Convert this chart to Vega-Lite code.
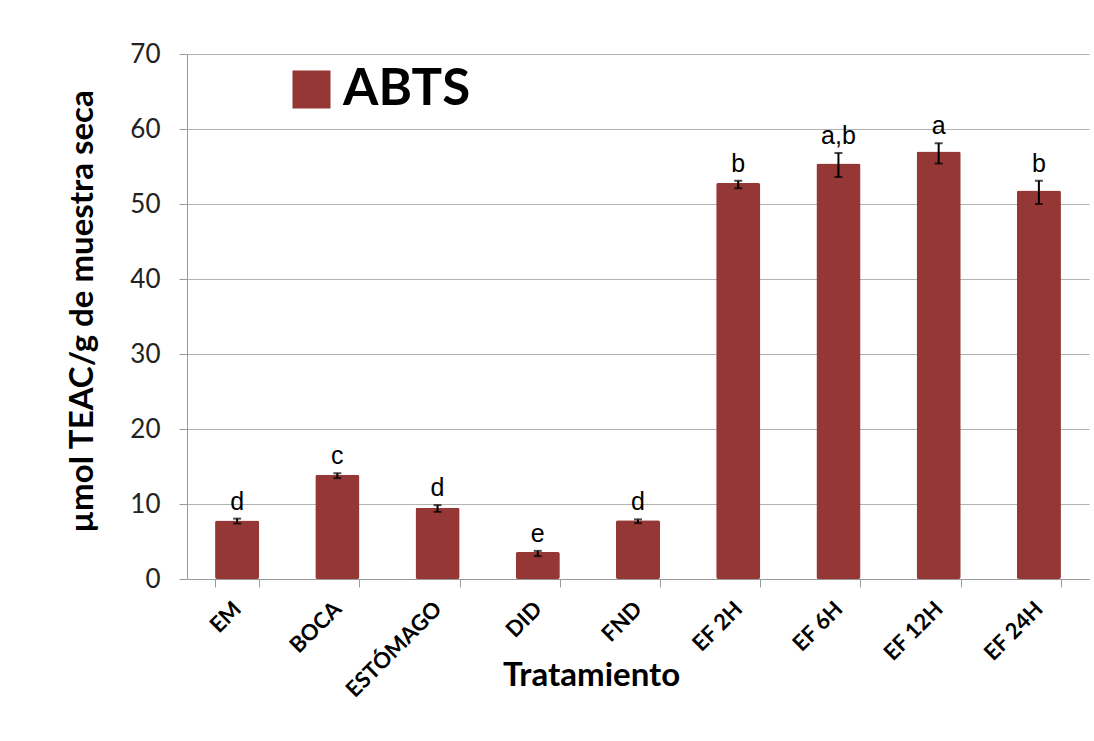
{
  "$schema": "https://vega.github.io/schema/vega-lite/v6.json",
  "width": 902,
  "height": 525,
  "autosize": {"type": "none"},
  "padding": {"left": 187, "top": 54, "right": 5, "bottom": 162},
  "background": "white",
  "config": {"view": {"stroke": null}},
  "data": {"values": [
    {"trat": "EM", "valor": 7.8, "lo": 7.4, "hi": 8.05, "letra": "d", "serie": "ABTS"},
    {"trat": "BOCA", "valor": 13.9, "lo": 13.45, "hi": 14.1, "letra": "c", "serie": "ABTS"},
    {"trat": "ESTÓMAGO", "valor": 9.5, "lo": 8.95, "hi": 9.85, "letra": "d", "serie": "ABTS"},
    {"trat": "DID", "valor": 3.6, "lo": 3.05, "hi": 3.75, "letra": "e", "serie": "ABTS"},
    {"trat": "FND", "valor": 7.85, "lo": 7.45, "hi": 7.95, "letra": "d", "serie": "ABTS"},
    {"trat": "EF 2H", "valor": 52.8, "lo": 52.1, "hi": 53.1, "letra": "b", "serie": "ABTS"},
    {"trat": "EF 6H", "valor": 55.4, "lo": 53.6, "hi": 56.8, "letra": "a,b", "serie": "ABTS"},
    {"trat": "EF 12H", "valor": 57.0, "lo": 55.4, "hi": 58.1, "letra": "a", "serie": "ABTS"},
    {"trat": "EF 24H", "valor": 51.8, "lo": 50.0, "hi": 53.1, "letra": "b", "serie": "ABTS"}
  ]},
  "encoding": {
    "x": {
      "field": "trat", "type": "nominal", "sort": null,
      "scale": {"paddingInner": 0.56, "paddingOuter": 0.28},
      "axis": {
        "title": "Tratamiento",
        "titleFont": "Lato", "titleFontSize": 33, "titleFontWeight": "bold", "titleColor": "#000",
        "titleX": 404, "titleY": 106, "titleBaseline": "alphabetic", "titleAnchor": null,
        "labelFont": "Lato", "labelFontSize": 22, "labelFontWeight": "bold", "labelColor": "#000",
        "labelAngle": -45, "labelAlign": "right", "labelBaseline": "middle", "labelPadding": 18,
        "tickBand": "extent", "tickSize": 8, "tickColor": "#9a9a9a", "domainColor": "#9a9a9a",
        "grid": false
      }
    }
  },
  "layer": [
    {
      "mark": {"type": "bar", "cornerRadius": 2},
      "encoding": {
        "y": {
          "field": "valor", "type": "quantitative",
          "scale": {"domain": [0, 70], "nice": false},
          "axis": {
            "title": "µmol TEAC/g de muestra seca",
            "titleFont": "Lato", "titleFontSize": 33, "titleFontWeight": "bold", "titleColor": "#000",
            "titleX": -105, "titleY": 257, "titleAngle": -90, "titleAlign": "center", "titleBaseline": "middle", "titleAnchor": null,
            "values": [0, 10, 20, 30, 40, 50, 60, 70],
            "labelFont": "Lato", "labelFontSize": 26, "labelColor": "#222", "labelPadding": 19,
            "tickSize": 8, "tickColor": "#9a9a9a", "domainColor": "#9a9a9a",
            "grid": true, "gridColor": "#b3b3b3", "gridWidth": 1
          }
        },
        "color": {
          "field": "serie", "type": "nominal",
          "scale": {"range": ["#953735"]},
          "legend": {
            "orient": "none", "legendX": 99, "legendY": 10, "title": null,
            "symbolType": "square", "symbolSize": 1444, "symbolStrokeWidth": 0,
            "labelFont": "Lato", "labelFontSize": 51, "labelFontWeight": "bold", "labelColor": "#000",
            "labelOffset": 6
          }
        }
      }
    },
    {
      "mark": {"type": "rule", "color": "#000", "strokeWidth": 2},
      "encoding": {"y": {"field": "lo", "type": "quantitative"}, "y2": {"field": "hi"}}
    },
    {
      "mark": {"type": "tick", "color": "#000", "size": 8, "thickness": 2, "orient": "horizontal"},
      "encoding": {"y": {"field": "lo", "type": "quantitative"}}
    },
    {
      "mark": {"type": "tick", "color": "#000", "size": 8, "thickness": 2, "orient": "horizontal"},
      "encoding": {"y": {"field": "hi", "type": "quantitative"}}
    },
    {
      "mark": {"type": "text", "font": "Liberation Sans", "fontSize": 25, "color": "#000", "baseline": "alphabetic", "dy": -9},
      "encoding": {"y": {"field": "hi", "type": "quantitative"}, "text": {"field": "letra"}}
    }
  ]
}
